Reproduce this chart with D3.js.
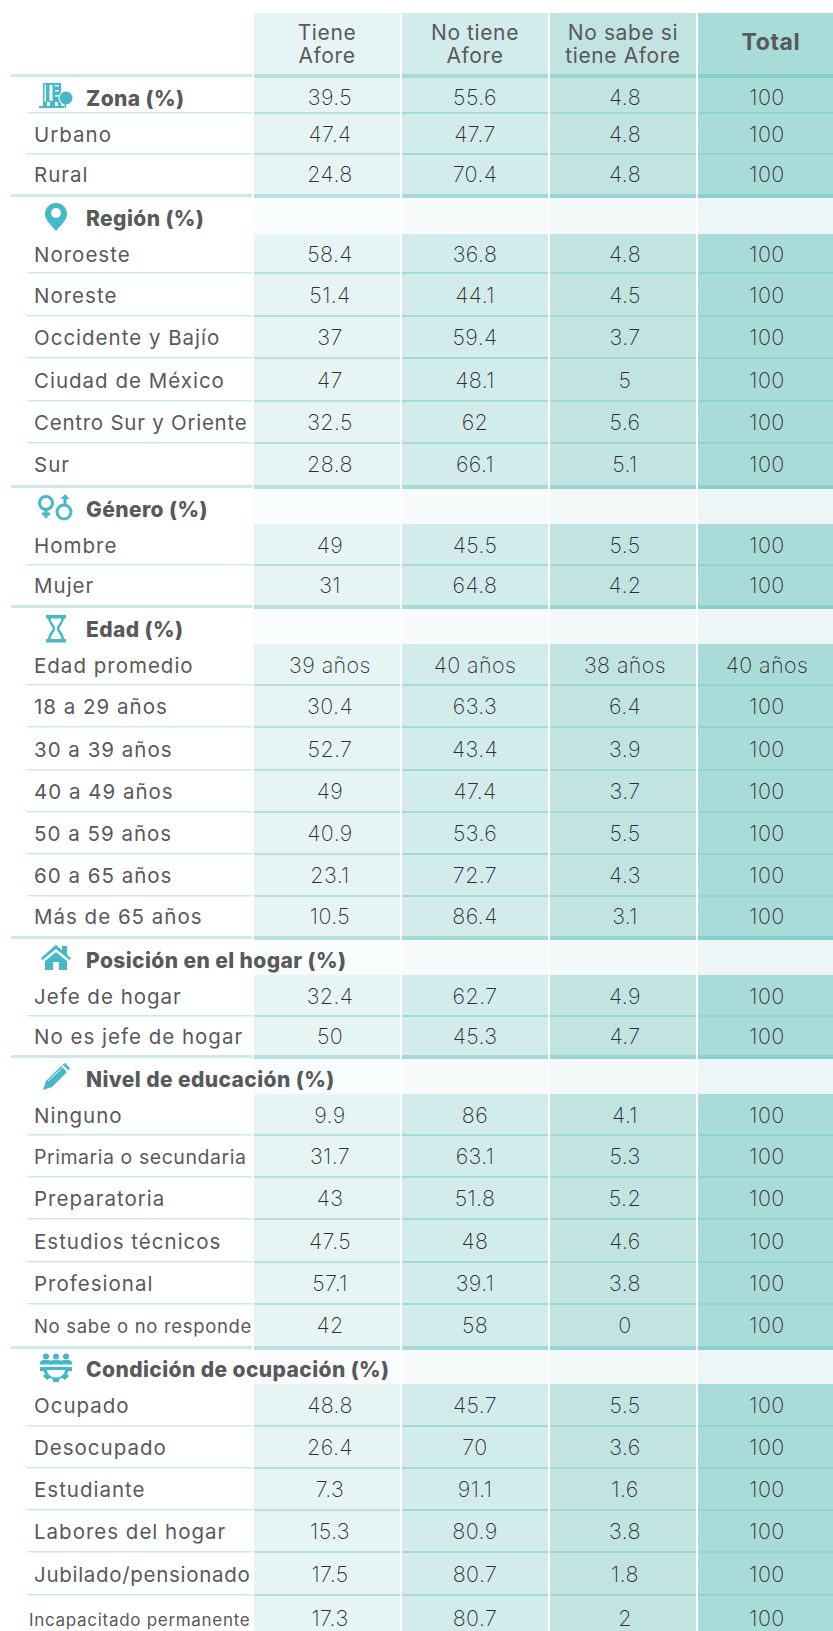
<!DOCTYPE html>
<html>
<head>
<meta charset="utf-8">
<script src="https://cdn.jsdelivr.net/npm/d3@7"></script>
<style>
  html, body { margin: 0; padding: 0; background: #fff; }
  svg { display: block; }
  text { font-family: Inter, "Open Sans", sans-serif; }
</style>
</head>
<body>
<svg width="833" height="1631"></svg>
<script>
// values, first entry of each array is the header row
const rowLabels = ['', 'Zona (%)', 'Urbano', 'Rural',
  'Región (%)', 'Noroeste', 'Noreste', 'Occidente y Bajío', 'Ciudad de México', 'Centro Sur y Oriente', 'Sur',
  'Género (%)', 'Hombre', 'Mujer',
  'Edad (%)', 'Edad promedio', '18 a 29 años', '30 a 39 años', '40 a 49 años', '50 a 59 años', '60 a 65 años', 'Más de 65 años',
  'Posición en el hogar (%)', 'Jefe de hogar', 'No es jefe de hogar',
  'Nivel de educación (%)', 'Ninguno', 'Primaria o secundaria', 'Preparatoria', 'Estudios técnicos', 'Profesional', 'No sabe o no responde',
  'Condición de ocupación (%)', 'Ocupado', 'Desocupado', 'Estudiante', 'Labores del hogar', 'Jubilado/pensionado', 'Incapacitado permanente'];

const tieneAfore = ['', '39.5', '47.4', '24.8',
  '', '58.4', '51.4', '37', '47', '32.5', '28.8',
  '', '49', '31',
  '', '39 años', '30.4', '52.7', '49', '40.9', '23.1', '10.5',
  '', '32.4', '50',
  '', '9.9', '31.7', '43', '47.5', '57.1', '42',
  '', '48.8', '26.4', '7.3', '15.3', '17.5', '17.3'];

const noTieneAfore = ['', '55.6', '47.7', '70.4',
  '', '36.8', '44.1', '59.4', '48.1', '62', '66.1',
  '', '45.5', '64.8',
  '', '40 años', '63.3', '43.4', '47.4', '53.6', '72.7', '86.4',
  '', '62.7', '45.3',
  '', '86', '63.1', '51.8', '48', '39.1', '58',
  '', '45.7', '70', '91.1', '80.9', '80.7', '80.7'];

const noSabeAfore = ['', '4.8', '4.8', '4.8',
  '', '4.8', '4.5', '3.7', '5', '5.6', '5.1',
  '', '5.5', '4.2',
  '', '38 años', '6.4', '3.9', '3.7', '5.5', '4.3', '3.1',
  '', '4.9', '4.7',
  '', '4.1', '5.3', '5.2', '4.6', '3.8', '0',
  '', '5.5', '3.6', '1.6', '3.8', '1.8', '2'];

const totalAfore = ['', '100', '100', '100',
  '', '100', '100', '100', '100', '100', '100',
  '', '100', '100',
  '', '40 años', '100', '100', '100', '100', '100', '100',
  '', '100', '100',
  '', '100', '100', '100', '100', '100', '100',
  '', '100', '100', '100', '100', '100', '100'];

const columns = ['Tiene Afore', 'No tiene Afore', 'No sabe si tiene Afore', 'Total'];
const headerLines = [['Tiene', 'Afore'], ['No tiene', 'Afore'], ['No sabe si', 'tiene Afore'], ['Total']];
const columnValues = [tieneAfore, noTieneAfore, noSabeAfore, totalAfore];
const sectionRows = [1, 4, 11, 14, 22, 25, 32];
const sectionIcons = ['zona', 'region', 'genero', 'edad', 'hogar', 'educacion', 'ocupacion'];

// row edges in pixels, the rows are not quite even in the picture
const rowEdges = [13, 78, 113, 154, 194, 234, 273, 316, 358, 401, 443, 485,
  524, 565, 605, 644, 685, 727, 770, 812, 854, 896, 936,
  975, 1016, 1055, 1094, 1135, 1177, 1219, 1262, 1304, 1346,
  1384, 1426, 1468, 1510, 1552, 1595, 1640];

const cellFill = ['#e7f4f4', '#d2eceb', '#c1e4e3', '#a9dbd9'];
const bandFill = ['#fafdfd', '#f7fbfb', '#f2f9f8', '#edf5f6'];
const thinRule = ['#b9e0de', '#a6dad7', '#a0d8d5', '#8fd2ce'];
const thickRule = ['#b9e0de', '#a6dad7', '#98d6d3', '#88d0cc'];
const textOffset = [3, 0, 2, -4];
// some labels were squeezed to fit in the original
const labelFit = {
  'Centro Sur y Oriente': { x: 34, size: 20.5, spacing: 0.75 },
  'Jubilado/pensionado': { x: 34, size: 20.5, spacing: 0.7 },
  'Primaria o secundaria': { x: 34, size: 19.5, spacing: 0.55 },
  'No sabe o no responde': { x: 34, size: 18.5, spacing: 0.67 },
  'Incapacitado permanente': { x: 29, size: 17, spacing: 0.7 }
};

const isSection = i => sectionRows.includes(i);
const endsSection = i => isSection(i + 1) && i > 0;
const rowIds = d3.range(rowLabels.length);
const thinRows = rowIds.slice(1, -1).filter(i => !endsSection(i) && (!isSection(i) || i === 1));

const xScale = d3.scaleBand().domain(columns).range([254, 844]).paddingInner(2 / 148);
const yScale = d3.scaleLinear().domain(d3.range(rowEdges.length)).range(rowEdges);
const midY = i => (yScale(i) + yScale(i + 1)) / 2;

const svg = d3.select('svg');

// cell backgrounds
columns.forEach((col, c) => {
  svg.append('g')
    .selectAll('rect')
    .data(rowIds)
    .enter()
    .append('rect')
    .attr('x', xScale(col))
    .attr('width', xScale.bandwidth())
    .attr('y', i => yScale(i))
    .attr('height', i => yScale(i + 1) - yScale(i))
    .style('fill', i => (isSection(i) && i !== 1 ? bandFill[c] : cellFill[c]));

  // thin rules under each row, thick under header and at section ends
  svg.append('g')
    .selectAll('rect')
    .data(thinRows)
    .enter()
    .append('rect')
    .attr('x', xScale(col))
    .attr('width', xScale.bandwidth())
    .attr('y', i => yScale(i + 1) - 1)
    .attr('height', 2)
    .style('fill', thinRule[c]);

  svg.append('g')
    .selectAll('rect')
    .data([0].concat(rowIds.filter(endsSection)))
    .enter()
    .append('rect')
    .attr('x', xScale(col))
    .attr('width', xScale.bandwidth())
    .attr('y', i => (i === 0 ? 74 : yScale(i + 1)))
    .attr('height', 4)
    .style('fill', thickRule[c]);
});

// rules of the label column
svg.append('g')
  .selectAll('rect')
  .data(thinRows)
  .enter()
  .append('rect')
  .attr('x', 27)
  .attr('width', 225)
  .attr('y', i => yScale(i + 1) - 1)
  .attr('height', 1.5)
  .style('fill', '#cdeae9');

svg.append('g')
  .selectAll('rect')
  .data([0].concat(rowIds.filter(endsSection)))
  .enter()
  .append('rect')
  .attr('x', 11)
  .attr('width', 241)
  .attr('y', i => (i === 0 ? 74 : yScale(i + 1)))
  .attr('height', 3)
  .style('fill', '#cdeae9');

// header text
columns.forEach((col, c) => {
  const lines = headerLines[c];
  svg.append('g')
    .selectAll('text')
    .data(lines)
    .enter()
    .append('text')
    .attr('x', xScale(col) + xScale.bandwidth() / 2)
    .attr('y', (d, i) => (lines.length === 1 ? 50 : 40 + i * 23))
    .attr('text-anchor', 'middle')
    .style('font-size', lines.length === 1 ? '23px' : '21px')
    .style('letter-spacing', '0.6px')
    .style('font-weight', lines.length === 1 ? 700 : 400)
    .style('fill', '#58595b')
    .text(d => d);
});

// values
columns.forEach((col, c) => {
  svg.append('g')
    .selectAll('text')
    .data(rowIds.filter(i => columnValues[c][i] !== ''))
    .enter()
    .append('text')
    .attr('x', xScale(col) + xScale.bandwidth() / 2 + textOffset[c])
    .attr('y', i => midY(i) + (i === 1 ? 9 : 8))
    .attr('text-anchor', 'middle')
    .style('font-size', '21.5px')
    .style('letter-spacing', '0.4px')
    .style('font-weight', 200)
    .style('fill', '#2f2f31')
    .text(i => columnValues[c][i]);
});

// row labels
svg.append('g')
  .selectAll('text')
  .data(rowIds.slice(1))
  .enter()
  .append('text')
  .attr('x', i => (labelFit[rowLabels[i]] ? labelFit[rowLabels[i]].x : isSection(i) ? 86 : 34))
  .attr('y', i => midY(i) + (i === 1 ? 10 : isSection(i) ? 12 : 8))
  .style('font-size', i => (labelFit[rowLabels[i]] ? labelFit[rowLabels[i]].size : isSection(i) ? 21 : 20.5) + 'px')
  .style('letter-spacing', i => (labelFit[rowLabels[i]] ? labelFit[rowLabels[i]].spacing : isSection(i) ? 0.4 : 1) + 'px')
  .style('font-weight', i => (isSection(i) ? 800 : 400))
  .style('fill', '#58595b')
  .text(i => rowLabels[i]);

// section icons
const iconColor = '#45b8c9';
const icons = {
  zona(g) {
    g.append('rect').attr('x', 43).attr('y', 83).attr('width', 18).attr('height', 24).style('fill', iconColor);
    g.append('rect').attr('x', 39).attr('y', 106).attr('width', 25).attr('height', 2).style('fill', iconColor);
    g.append('rect').attr('x', 44.5).attr('y', 84.5).attr('width', 1.5).attr('height', 17).style('fill', '#fff');
    g.append('rect').attr('x', 49.5).attr('y', 85).attr('width', 3).attr('height', 16).style('fill', '#fff');
    g.append('rect').attr('x', 55).attr('y', 85).attr('width', 4).attr('height', 1.5).style('fill', '#fff');
    g.append('rect').attr('x', 55).attr('y', 90).attr('width', 4).attr('height', 1.5).style('fill', '#fff');
    g.append('rect').attr('x', 55).attr('y', 95).attr('width', 4).attr('height', 1.5).style('fill', '#fff');
    g.append('rect').attr('x', 47).attr('y', 102).attr('width', 3).attr('height', 4).style('fill', '#fff');
    g.append('rect').attr('x', 55).attr('y', 102).attr('width', 3).attr('height', 4).style('fill', '#fff');
    g.append('circle').attr('cx', 66).attr('cy', 98).attr('r', 7.5).style('fill', '#fff');
    g.append('circle').attr('cx', 66).attr('cy', 98).attr('r', 6.5).style('fill', iconColor);
    g.append('rect').attr('x', 64.5).attr('y', 100).attr('width', 1.6).attr('height', 8).style('fill', iconColor);
  },
  region(g) {
    g.append('path')
      .attr('d', 'M56 231C51 225 45 220 45 214A11 11 0 0 1 67 214C67 220 61 225 56 231Z')
      .style('fill', iconColor);
    g.append('circle').attr('cx', 56).attr('cy', 213).attr('r', 5).style('fill', '#fff');
  },
  genero(g) {
    g.append('circle').attr('cx', 46).attr('cy', 503).attr('r', 6.5);
    g.append('circle').attr('cx', 64).attr('cy', 512).attr('r', 7);
    g.selectAll('circle').style('fill', 'none').style('stroke', iconColor).style('stroke-width', 3);
    g.append('path')
      .attr('d', 'M46 510V518M42 514H50M65 505V496')
      .style('fill', 'none').style('stroke', iconColor).style('stroke-width', 3);
    g.append('path').attr('d', 'M65 494L69.5 499H60.5Z').style('fill', iconColor);
  },
  edad(g) {
    g.append('rect').attr('x', 46).attr('y', 615).attr('width', 20).attr('height', 3.5).style('fill', iconColor);
    g.append('rect').attr('x', 46).attr('y', 639).attr('width', 20).attr('height', 3.5).style('fill', iconColor);
    g.append('path')
      .attr('d', 'M49 617C49 624 54 625 54 628.5C54 632 49 633 49 640M63 617C63 624 58 625 58 628.5C58 632 63 633 63 640')
      .style('fill', 'none').style('stroke', iconColor).style('stroke-width', 2.5);
  },
  hogar(g) {
    g.append('path')
      .attr('d', 'M41 958L56 945L62 950V946H67V955L71 958L69.5 960L56 949L42.5 960Z')
      .style('fill', iconColor);
    g.append('path')
      .attr('d', 'M45 961L56 952L67 961V970H59V962H53V970H45Z')
      .style('fill', iconColor);
  },
  educacion(g) {
    g.append('path')
      .attr('d', 'M43 1090L46 1081L61 1066L67 1072L52 1087ZM62.5 1064.5L65 1063L70 1068L68.5 1070.5Z')
      .style('fill', iconColor);
    g.append('path').attr('d', 'M48 1081L62 1068').style('stroke', '#fff').style('stroke-width', 1);
  },
  ocupacion(g) {
    // gear below the three people
    g.append('path')
      .attr('d', 'M40 1367H72V1371H68.5L67 1374L69 1376L65 1380L62 1378L59 1379V1382H53V1379L50 1378L47 1380L43 1376L45 1374L43.5 1371H40Z')
      .style('fill', iconColor);
    g.append('path').attr('d', 'M47 1370H65A9 7.5 0 0 1 47 1370Z').style('fill', '#fff');
    [46, 56, 66].forEach(cx => {
      g.append('circle').attr('cx', cx).attr('cy', 1356.5).attr('r', 3).style('fill', iconColor);
      g.append('path')
        .attr('d', 'M' + (cx - 6) + ' 1364.5V1363Q' + (cx - 6) + ' 1360 ' + (cx - 2) + ' 1360H' + (cx + 2) + 'Q' + (cx + 6) + ' 1360 ' + (cx + 6) + ' 1363V1364.5Z')
        .style('fill', iconColor);
    });
  }
};

sectionIcons.forEach(name => {
  icons[name](svg.append('g').attr('class', 'icon-' + name));
});
</script>
</body>
</html>
